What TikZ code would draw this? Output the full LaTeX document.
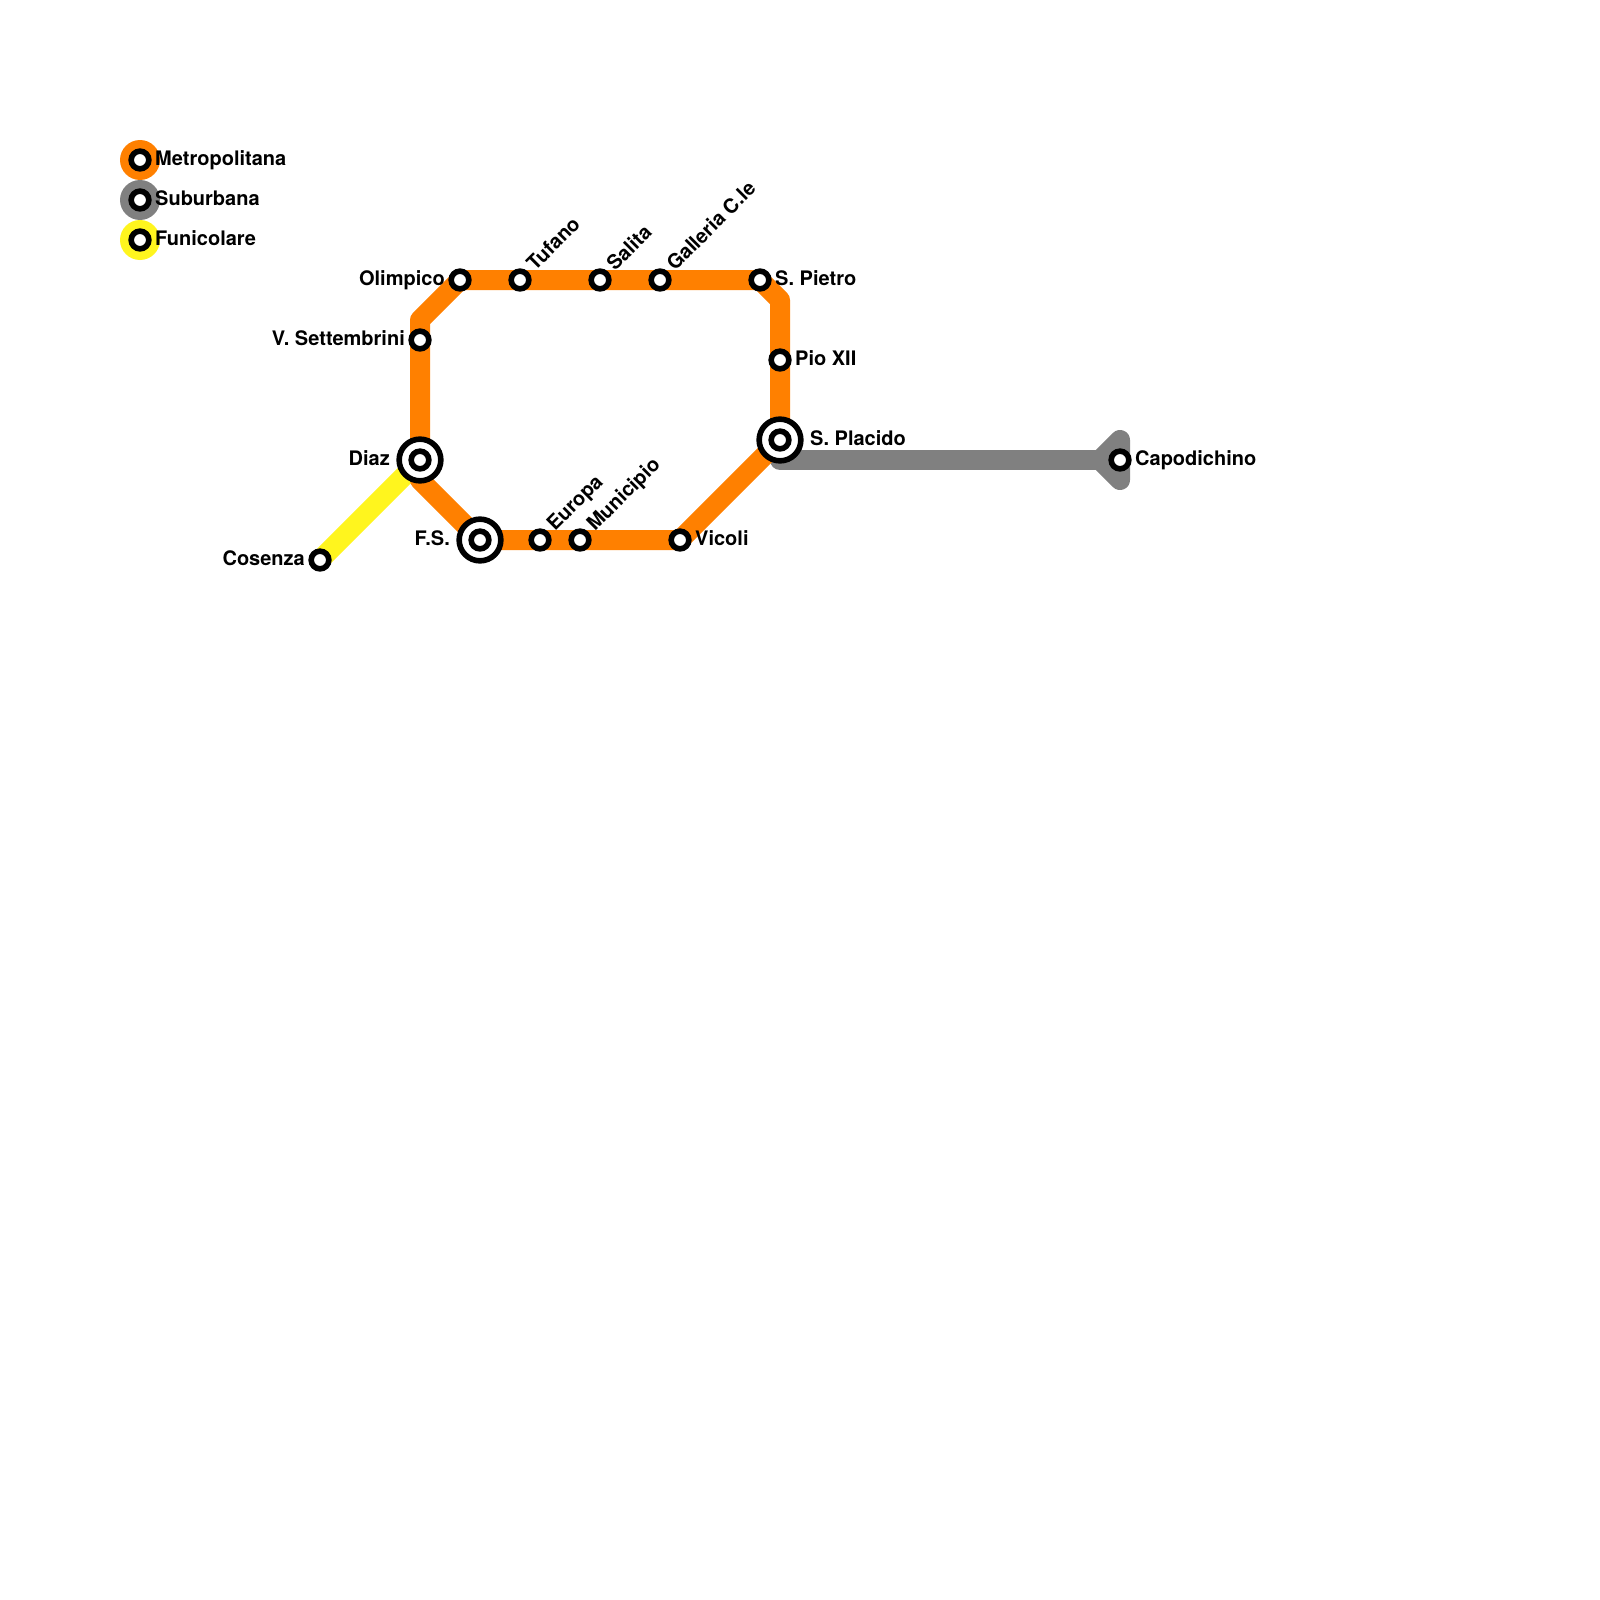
\documentclass[tikz,border=0pt]{standalone}
\usepackage{fontspec}
\setmainfont{TeX Gyre Heros}
\usetikzlibrary{backgrounds}
\definecolor{metro}{HTML}{FF8000}
\definecolor{subu}{HTML}{808080}
\definecolor{funi}{HTML}{FFF51E}
\tikzset{
  stn/.style={circle,draw=black,fill=white,line width=5.6pt,minimum size=17.7pt,inner sep=0pt},
  hub/.style={circle,draw=black,fill=white,line width=5.6pt,minimum size=41.7pt,inner sep=0pt},
  lab/.style={inner sep=0pt,font=\fontsize{20}{24}\selectfont\bfseries},
  labr/.style={lab,anchor=base west},
  labl/.style={lab,anchor=base east},
  labd/.style={lab,anchor=base west,rotate=45},
  key/.style={circle,minimum size=40pt,inner sep=0pt},
  track/.style={line width=20pt,line join=round,line cap=round},
  tracks/.style={line width=20pt,line join=round,line cap=butt}
}
\begin{document}
\begin{tikzpicture}[x=1pt,y=-1pt]
\useasboundingbox (0,0) rectangle (1600,1600);
% legend
\node[key,fill=metro] (k1) at (140,160) {};
\node[key,fill=subu] (k2) at (140,200) {};
\node[key,fill=funi] (k3) at (140,240) {};
\node[stn] (s1) at (140,160) {};
\node[stn] (s2) at (140,200) {};
\node[stn] (s3) at (140,240) {};
\node[labr] (t1) at (155,165.5) {Metropolitana};
\node[labr] (t2) at (155,205) {Suburbana};
\node[labr] (t3) at (155,245) {Funicolare};
% bends
\coordinate (b1) at (420,320);
\coordinate (b2) at (420,480);
\coordinate (b3) at (780,300);
\coordinate (b4) at (780,460);
\coordinate (b5) at (1100,460);
\coordinate (b6) at (1120,440);
\coordinate (b7) at (1120,480);
% interchanges
\node[hub] (diazh) at (420,460) {};
\node[hub] (fsh) at (480,540) {};
\node[hub] (placidoh) at (780,440) {};
% stations
\node[stn] (olimpico) at (460,280) {};
\node[stn] (tufano) at (520,280) {};
\node[stn] (salita) at (600,280) {};
\node[stn] (galleria) at (660,280) {};
\node[stn] (pietro) at (760,280) {};
\node[stn] (pio) at (780,360) {};
\node[stn] (placido) at (780,440) {};
\node[stn] (capo) at (1120,460) {};
\node[stn] (sett) at (420,340) {};
\node[stn] (diaz) at (420,460) {};
\node[stn] (fs) at (480,540) {};
\node[stn] (europa) at (540,540) {};
\node[stn] (municipio) at (580,540) {};
\node[stn] (vicoli) at (680,540) {};
\node[stn] (cosenza) at (320,560) {};
% lines
\begin{scope}[on background layer]
\fill[white] (0,0) rectangle (1600,1600);
\draw[tracks,funi] (diaz.center) -- (cosenza.center);
\draw[track,subu] (placido.center) -- (b4) -- (capo.center);
\draw[track,subu] (b5) -- (b6) -- (b7) -- cycle;
\draw[track,metro] (vicoli.center) -- (placido.center) -- (pio.center) -- (b3) -- (pietro.center)
  -- (galleria.center) -- (salita.center) -- (tufano.center) -- (olimpico.center) -- (b1)
  -- (sett.center) -- (diaz.center) -- (b2) -- (fs.center) -- (europa.center)
  -- (municipio.center) -- (vicoli.center);
\end{scope}
% labels
\node[labl] (tolimpico) at (445,285) {Olimpico};
\node[labl] (tsett) at (405,345) {V. Settembrini};
\node[labl] (tdiaz) at (390,465) {Diaz};
\node[labl] (tfs) at (450,545) {F.S.};
\node[labl] (tcosenza) at (305,565) {Cosenza};
\node[labr] (tpietro) at (775,285) {S. Pietro};
\node[labr] (tpio) at (795,365) {Pio XII};
\node[labr] (tplacido) at (810,445) {S. Placido};
\node[labr] (tcapo) at (1135,465) {Capodichino};
\node[labr] (tvicoli) at (695,545) {Vicoli};
\node[labd] (ttufano) at (535,272) {Tufano};
\node[labd] (tsalita) at (615,272) {Salita};
\node[labd] (tgalleria) at (675,272) {Galleria C.le};
\node[labd] (teuropa) at (555,532) {Europa};
\node[labd] (tmunicipio) at (595,532) {Municipio};
\end{tikzpicture}
\end{document}
